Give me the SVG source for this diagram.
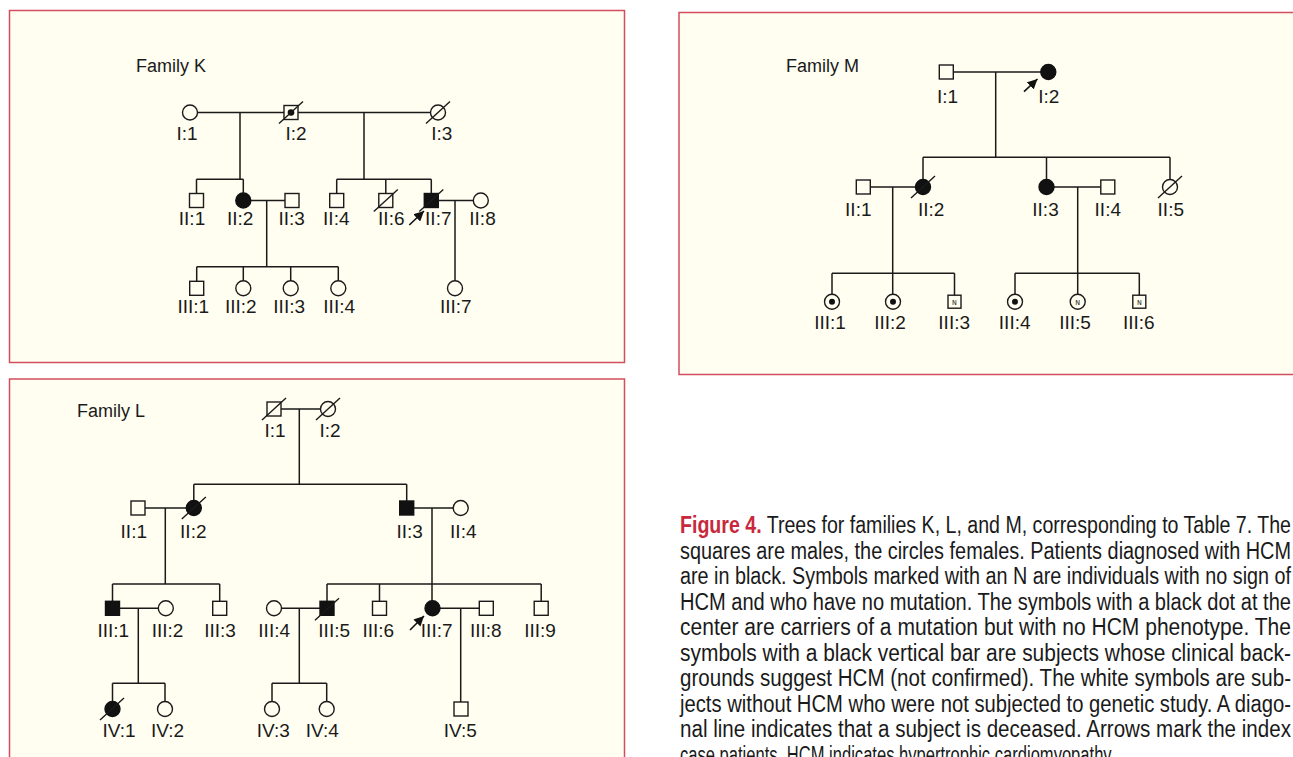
<svg xmlns="http://www.w3.org/2000/svg" width="1293" height="757" viewBox="0 0 1293 757">
<defs>
<style>
.panel{fill:#FFFEF1;stroke:#D24D5D;stroke-width:1.5}
.ln{stroke:#1a1a1a;stroke-width:1.5;fill:none}
.o{fill:#FFFEF1;stroke:#1a1a1a;stroke-width:1.4}
.f{fill:#111;stroke:#111;stroke-width:1.4}
.sl{stroke:#1a1a1a;stroke-width:1.4}
.dot{fill:#111}
.lbl{font-family:"Liberation Sans",Arial,sans-serif;font-size:19px;fill:#1a1a1a;text-anchor:middle}
.fam{font-family:"Liberation Sans",Arial,sans-serif;font-size:18px;fill:#1a1a1a}
.n{font-family:"Liberation Mono","Courier New",monospace;font-size:8px;fill:#1a1a1a;text-anchor:middle}
.cap{font-family:"Liberation Sans",Arial,sans-serif;font-size:23px;fill:#1a1a1a}
.capb{font-weight:bold;fill:#C8283C}
.arr{stroke:#111;stroke-width:1.6;marker-end:url(#ah)}
</style>
<marker id="ah" markerUnits="userSpaceOnUse" markerWidth="11" markerHeight="10" refX="10" refY="5" orient="auto"><path d="M0,0 L10,5 L0,10 z" fill="#111"/></marker>
</defs>

<g id="panels">
<rect class="panel" x="9.5" y="10.5" width="615" height="352"/>
<rect class="panel" x="9.5" y="379" width="615" height="420"/>
<rect class="panel" x="679" y="12.5" width="640" height="362"/>
</g>

<text class="fam" x="136" y="71.5">Family K</text>
<text class="fam" x="77" y="416.5">Family L</text>
<text class="fam" x="786" y="72">Family M</text>

<g id="connectors">
<!-- Family K -->
<path class="ln" d="M190,112.5 H438 M240,112.5 V179.3 M196.5,179.3 H243.3 M196.5,179.3 V200.5 M243.3,179.3 V200.5 M364,112.5 V179.3 M336.7,179.3 H431.3 M336.7,179.3 V200.5 M385.8,179.3 V200.5 M431.3,179.3 V200.5 M243.3,200.5 H292 M266.7,200.5 V266.7 M196.7,266.7 H338.3 M196.7,266.7 V288.3 M243.3,266.7 V288.3 M290.7,266.7 V288.3 M338.3,266.7 V288.3 M431.3,200.5 H480.8 M455,200.5 V288.3"/>
<!-- Family L -->
<path class="ln" d="M274,409 H328 M299.3,409 V484.3 M193.8,484.3 H406.7 M193.8,484.3 V508 M406.7,484.3 V508 M138,508 H193.8 M165.3,508 V584 M112.5,584 H219.7 M112.5,584 V608.3 M219.7,584 V608.3 M112.5,608.3 H165.8 M138.3,608.3 V683.3 M112.5,683.3 H165 M112.5,683.3 V709 M165,683.3 V709 M406.7,508 H460.7 M432,508 V608.3 M327,584 H541.2 M327,584 V608.3 M379.5,584 V608.3 M541.2,584 V608.3 M274,608.3 H327 M299.3,608.3 V683.3 M272,683.3 H326.7 M272,683.3 V709 M326.7,683.3 V709 M432,608.3 H486.3 M460.7,608.3 V709"/>
<!-- Family M -->
<path class="ln" d="M946.3,72 H1048.3 M995.7,72 V157.3 M923,157.3 H1170 M923,157.3 V187 M1046.5,157.3 V187 M1170,157.3 V187 M863.3,187 H923 M892.7,187 V301.7 M832,273.3 H954.5 M832,273.3 V301.7 M954.5,273.3 V301.7 M1046.5,187 H1107.8 M1077.7,187 V301.7 M1015,273.3 H1139.3 M1015,273.3 V301.7 M1139.3,273.3 V301.7"/>
<!-- index arrows -->
<line class="arr" x1="409.3" y1="225" x2="424" y2="211"/>
<line class="arr" x1="410" y1="630" x2="424" y2="616"/>
<line class="arr" x1="1024" y1="91.7" x2="1037.5" y2="79"/>
</g>

<!-- Family K nodes -->
<g id="K-I1"><circle class="o" cx="190" cy="112.5" r="7.5"/><text class="lbl" x="187" y="140">I:1</text></g>
<g id="K-I2"><rect class="o" x="284" y="105.5" width="14" height="14"/><circle class="dot" cx="291" cy="112.5" r="3.3"/><line class="sl" x1="279" y1="123.5" x2="303" y2="101.5"/><text class="lbl" x="296" y="140">I:2</text></g>
<g id="K-I3"><circle class="o" cx="438" cy="112.5" r="7.5"/><line class="sl" x1="426" y1="123.5" x2="450" y2="101.5"/><text class="lbl" x="441.7" y="140">I:3</text></g>
<g id="K-II1"><rect class="o" x="189.5" y="193.5" width="14" height="14"/><text class="lbl" x="192" y="225">II:1</text></g>
<g id="K-II2"><circle class="f" cx="243.3" cy="200.5" r="7.5"/><text class="lbl" x="240.2" y="225">II:2</text></g>
<g id="K-II3"><rect class="o" x="285" y="193.5" width="14" height="14"/><text class="lbl" x="291.7" y="225">II:3</text></g>
<g id="K-II4"><rect class="o" x="329.7" y="193.5" width="14" height="14"/><text class="lbl" x="336.3" y="225">II:4</text></g>
<g id="K-II6"><rect class="o" x="378.8" y="193.5" width="14" height="14"/><line class="sl" x1="373.8" y1="211.5" x2="397.8" y2="189.5"/><text class="lbl" x="391.3" y="225">II:6</text></g>
<g id="K-II7"><rect class="f" x="424.3" y="193.5" width="14" height="14"/><line class="sl" x1="419.3" y1="211.5" x2="443.3" y2="189.5"/><text class="lbl" x="438.3" y="225">II:7</text></g>
<g id="K-II8"><circle class="o" cx="480.8" cy="200.5" r="7.5"/><text class="lbl" x="482.5" y="225">II:8</text></g>
<g id="K-III1"><rect class="o" x="189.7" y="281.3" width="14" height="14"/><text class="lbl" x="193.3" y="313">III:1</text></g>
<g id="K-III2"><circle class="o" cx="243.3" cy="288.3" r="7.5"/><text class="lbl" x="240.8" y="313">III:2</text></g>
<g id="K-III3"><circle class="o" cx="290.7" cy="288.3" r="7.5"/><text class="lbl" x="289.2" y="313">III:3</text></g>
<g id="K-III4"><circle class="o" cx="338.3" cy="288.3" r="7.5"/><text class="lbl" x="339.2" y="313">III:4</text></g>
<g id="K-III7"><circle class="o" cx="455" cy="288.3" r="7.5"/><text class="lbl" x="455.8" y="313">III:7</text></g>

<!-- Family L nodes -->
<g id="L-I1"><rect class="o" x="267" y="402" width="14" height="14"/><line class="sl" x1="262" y1="420" x2="286" y2="398"/><text class="lbl" x="275" y="436.5">I:1</text></g>
<g id="L-I2"><circle class="o" cx="328" cy="409" r="7.5"/><line class="sl" x1="316" y1="420" x2="340" y2="398"/><text class="lbl" x="330" y="436.5">I:2</text></g>
<g id="L-II1"><rect class="o" x="131" y="501" width="14" height="14"/><text class="lbl" x="133.8" y="538">II:1</text></g>
<g id="L-II2"><circle class="f" cx="193.8" cy="508" r="7.5"/><line class="sl" x1="181.8" y1="519" x2="205.8" y2="497"/><text class="lbl" x="193.3" y="538">II:2</text></g>
<g id="L-II3"><rect class="f" x="399.7" y="501" width="14" height="14"/><text class="lbl" x="409.7" y="538">II:3</text></g>
<g id="L-II4"><circle class="o" cx="460.7" cy="508" r="7.5"/><text class="lbl" x="463.3" y="538">II:4</text></g>
<g id="L-III1"><rect class="f" x="105.5" y="601.3" width="14" height="14"/><text class="lbl" x="113.3" y="636.5">III:1</text></g>
<g id="L-III2"><circle class="o" cx="165.8" cy="608.3" r="7.5"/><text class="lbl" x="167.5" y="636.5">III:2</text></g>
<g id="L-III3"><rect class="o" x="212.7" y="601.3" width="14" height="14"/><text class="lbl" x="220" y="636.5">III:3</text></g>
<g id="L-III4"><circle class="o" cx="274" cy="608.3" r="7.5"/><text class="lbl" x="274.2" y="636.5">III:4</text></g>
<g id="L-III5"><rect class="f" x="320" y="601.3" width="14" height="14"/><line class="sl" x1="315" y1="620.3" x2="339" y2="598.3"/><text class="lbl" x="334.2" y="636.5">III:5</text></g>
<g id="L-III6"><rect class="o" x="372.5" y="601.3" width="14" height="14"/><text class="lbl" x="378.3" y="636.5">III:6</text></g>
<g id="L-III7"><circle class="f" cx="432.5" cy="608.3" r="7.5"/><text class="lbl" x="436.7" y="636.5">III:7</text></g>
<g id="L-III8"><rect class="o" x="479.3" y="601.3" width="14" height="14"/><text class="lbl" x="485.8" y="636.5">III:8</text></g>
<g id="L-III9"><rect class="o" x="534.2" y="601.3" width="14" height="14"/><text class="lbl" x="540" y="636.5">III:9</text></g>
<g id="L-IV1"><circle class="f" cx="112.5" cy="709" r="7.5"/><line class="sl" x1="100" y1="720" x2="124" y2="698"/><text class="lbl" x="119" y="736.5">IV:1</text></g>
<g id="L-IV2"><circle class="o" cx="165" cy="709" r="7.5"/><text class="lbl" x="167.5" y="736.5">IV:2</text></g>
<g id="L-IV3"><circle class="o" cx="272" cy="709" r="7.5"/><text class="lbl" x="273.3" y="736.5">IV:3</text></g>
<g id="L-IV4"><circle class="o" cx="326.7" cy="709" r="7.5"/><text class="lbl" x="322.3" y="736.5">IV:4</text></g>
<g id="L-IV5"><rect class="o" x="454" y="702" width="14" height="14"/><text class="lbl" x="460.3" y="736.5">IV:5</text></g>

<!-- Family M nodes -->
<g id="M-I1"><rect class="o" x="939.3" y="65" width="14" height="14"/><text class="lbl" x="947.5" y="102.5">I:1</text></g>
<g id="M-I2"><circle class="f" cx="1048.3" cy="72" r="7.5"/><text class="lbl" x="1048.8" y="102.5">I:2</text></g>
<g id="M-II1"><rect class="o" x="856.3" y="180" width="14" height="14"/><text class="lbl" x="858.3" y="216">II:1</text></g>
<g id="M-II2"><circle class="f" cx="923" cy="187" r="7.5"/><line class="sl" x1="911" y1="198" x2="935" y2="176"/><text class="lbl" x="931.2" y="216">II:2</text></g>
<g id="M-II3"><circle class="f" cx="1046.5" cy="187" r="7.5"/><text class="lbl" x="1045.5" y="216">II:3</text></g>
<g id="M-II4"><rect class="o" x="1100.8" y="180" width="14" height="14"/><text class="lbl" x="1107.8" y="216">II:4</text></g>
<g id="M-II5"><circle class="o" cx="1170" cy="187" r="7.5"/><line class="sl" x1="1158" y1="198" x2="1182" y2="176"/><text class="lbl" x="1170.8" y="216">II:5</text></g>
<g id="M-III1"><circle class="o" cx="832" cy="301.7" r="7.5"/><circle class="dot" cx="832" cy="301.7" r="3"/><text class="lbl" x="830" y="328.5">III:1</text></g>
<g id="M-III2"><circle class="o" cx="893" cy="301.7" r="7.5"/><circle class="dot" cx="893" cy="301.7" r="3"/><text class="lbl" x="890" y="328.5">III:2</text></g>
<g id="M-III3"><rect class="o" x="948" y="295.2" width="13" height="13"/><text class="n" x="954.5" y="304.5">N</text><text class="lbl" x="954.2" y="328.5">III:3</text></g>
<g id="M-III4"><circle class="o" cx="1015" cy="301.7" r="7.5"/><circle class="dot" cx="1015" cy="301.7" r="3"/><text class="lbl" x="1014.7" y="328.5">III:4</text></g>
<g id="M-III5"><circle class="o" cx="1077.7" cy="301.7" r="7.5"/><text class="n" x="1077.7" y="304.5">N</text><text class="lbl" x="1075" y="328.5">III:5</text></g>
<g id="M-III6"><rect class="o" x="1132.8" y="295.2" width="13" height="13"/><text class="n" x="1139.3" y="304.5">N</text><text class="lbl" x="1138.8" y="328.5">III:6</text></g>

<g id="caption">
<text class="cap" x="680" y="533.3" textLength="611" lengthAdjust="spacingAndGlyphs"><tspan class="capb">Figure 4.</tspan> Trees for families K, L, and M, corresponding to Table 7. The</text>
<text class="cap" x="680" y="558.8" textLength="611" lengthAdjust="spacingAndGlyphs">squares are males, the circles females. Patients diagnosed with HCM</text>
<text class="cap" x="680" y="584.3" textLength="611" lengthAdjust="spacingAndGlyphs">are in black. Symbols marked with an N are individuals with no sign of</text>
<text class="cap" x="680" y="609.8" textLength="611" lengthAdjust="spacingAndGlyphs">HCM and who have no mutation. The symbols with a black dot at the</text>
<text class="cap" x="680" y="635.3" textLength="611" lengthAdjust="spacingAndGlyphs">center are carriers of a mutation but with no HCM phenotype. The</text>
<text class="cap" x="680" y="660.8" textLength="611" lengthAdjust="spacingAndGlyphs">symbols with a black vertical bar are subjects whose clinical back-</text>
<text class="cap" x="680" y="686.3" textLength="611" lengthAdjust="spacingAndGlyphs">grounds suggest HCM (not confirmed). The white symbols are sub-</text>
<text class="cap" x="680" y="711.8" textLength="611" lengthAdjust="spacingAndGlyphs">jects without HCM who were not subjected to genetic study. A diago-</text>
<text class="cap" x="680" y="737.3" textLength="611" lengthAdjust="spacingAndGlyphs">nal line indicates that a subject is deceased. Arrows mark the index</text>
<text class="cap" x="680" y="762.8" textLength="435" lengthAdjust="spacingAndGlyphs">case patients. HCM indicates hypertrophic cardiomyopathy.</text>
</g>
</svg>
